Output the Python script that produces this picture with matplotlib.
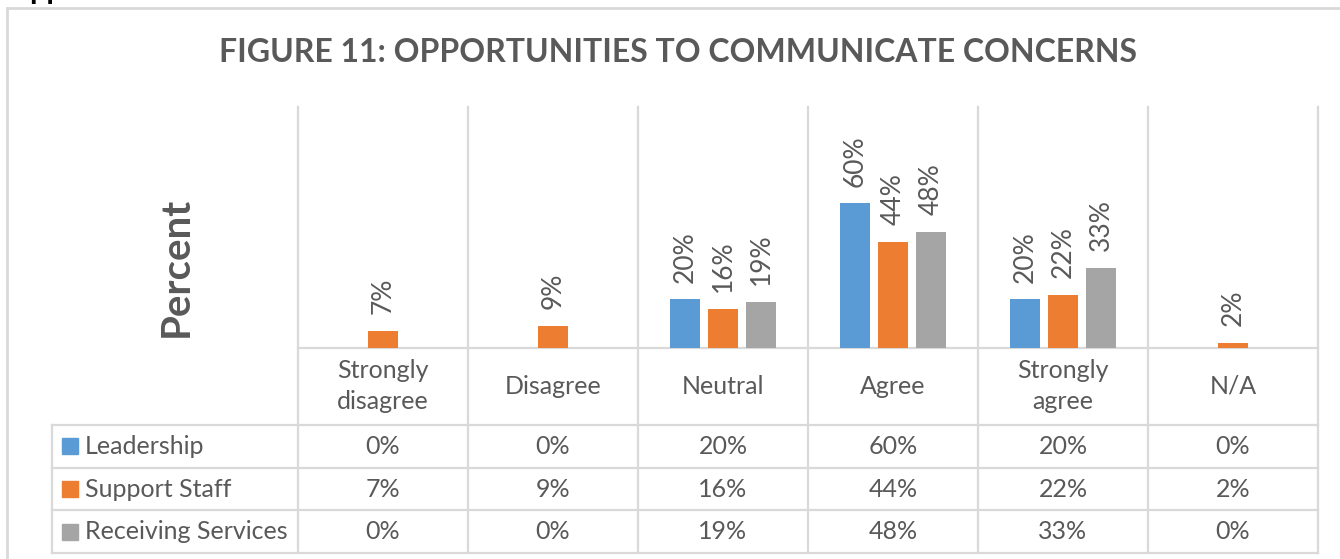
import matplotlib
matplotlib.use("Agg")
import matplotlib.pyplot as plt
from matplotlib.patches import Rectangle

plt.rcParams['font.family'] = ['Lato', 'DejaVu Sans']

# ---- data ----
categories = ["Strongly\ndisagree", "Disagree", "Neutral", "Agree", "Strongly\nagree", "N/A"]
series_names = ["Leadership", "Support Staff", "Receiving Services"]
leadership = [0, 0, 20, 60, 20, 0]
support_staff = [7, 9, 16, 44, 22, 2]
receiving_services = [0, 0, 19, 48, 33, 0]
title = "FIGURE 11: OPPORTUNITIES TO COMMUNICATE CONCERNS"
ylabel = "Percent"

series = [leadership, support_staff, receiving_services]
colors = ["#5B9BD5", "#ED7D31", "#A5A5A5"]
text_col = "#595959"
line_col = "#D9D9D9"

W, H = 1340, 559
fig = plt.figure(figsize=(W / 100, H / 100), dpi=100)

# layout (pixels)
plot_l, plot_r = 298, 1318
plot_t, base_y = 107, 347.5
hdr_b = 425
row_h = 42.7
leg_l = 52
n = len(categories)
col_w = (plot_r - plot_l) / n

# overlay axes in pixel coords
ov = fig.add_axes([0, 0, 1, 1])
ov.set_xlim(0, W)
ov.set_ylim(H, 0)
ov.axis("off")

# main bar axes
ax = fig.add_axes([plot_l / W, (H - base_y) / H, (plot_r - plot_l) / W, (base_y - plot_t) / H])
ax.set_xlim(-0.5, n - 0.5)
ax.set_ylim(0, 100)
ax.axis("off")

bw = 30 / col_w
step = 38 / col_w
for j, (vals, c) in enumerate(zip(series, colors)):
    xs = [i + (j - 1) * step for i in range(n)]
    ax.bar(xs, vals, width=bw, color=c, zorder=3)
    for x, v in zip(xs, vals):
        if v > 0:
            ax.annotate(f"{v}%", (x, v), xytext=(0, 12), textcoords="offset points",
                        rotation=90, ha="center", va="bottom", fontsize=19, color=text_col)

lw = 1.6
# chart border
ov.plot([7, 7], [8, H + 5], color=line_col, lw=2, clip_on=False)
ov.plot([7, W + 5], [8, 8], color=line_col, lw=2, clip_on=False)

# vertical grid / table lines
table_b = hdr_b + 3 * row_h
for i in range(n + 1):
    x = plot_l + i * col_w
    ov.plot([x, x], [plot_t, table_b], color=line_col, lw=lw)
ov.plot([leg_l, leg_l], [hdr_b, table_b], color=line_col, lw=lw)
ov.plot([plot_l, plot_r], [base_y, base_y], color=line_col, lw=lw)
for k in range(4):
    y = hdr_b + k * row_h
    ov.plot([leg_l, plot_r], [y, y], color=line_col, lw=lw)

# category header
for i, cat in enumerate(categories):
    cx = plot_l + (i + 0.5) * col_w
    ov.text(cx, (base_y + hdr_b) / 2, cat, ha="center", va="center", fontsize=18,
            color=text_col, linespacing=1.4)

# table rows
for r, (name, vals, c) in enumerate(zip(series_names, series, colors)):
    cy = hdr_b + (r + 0.5) * row_h
    ov.add_patch(Rectangle((62, cy - 8), 16, 16, color=c))
    ov.text(85, cy, name, ha="left", va="center", fontsize=18, color=text_col)
    for i, v in enumerate(vals):
        cx = plot_l + (i + 0.5) * col_w
        ov.text(cx, cy, f"{v}%", ha="center", va="center", fontsize=18, color=text_col)

# title and y label
ov.text(678, 52, title, ha="center", va="center", fontsize=23,
        fontweight="bold", color=text_col)
ov.text(176, 267, ylabel, ha="center", va="center", rotation=90, fontsize=29,
        fontweight="bold", color=text_col)

# fragment of page text above the chart
ov.text(29, -1, "pp", ha="left", va="baseline", fontsize=22, fontweight="bold",
        color="black", clip_on=False)

fig.savefig("out.png", dpi=100)
